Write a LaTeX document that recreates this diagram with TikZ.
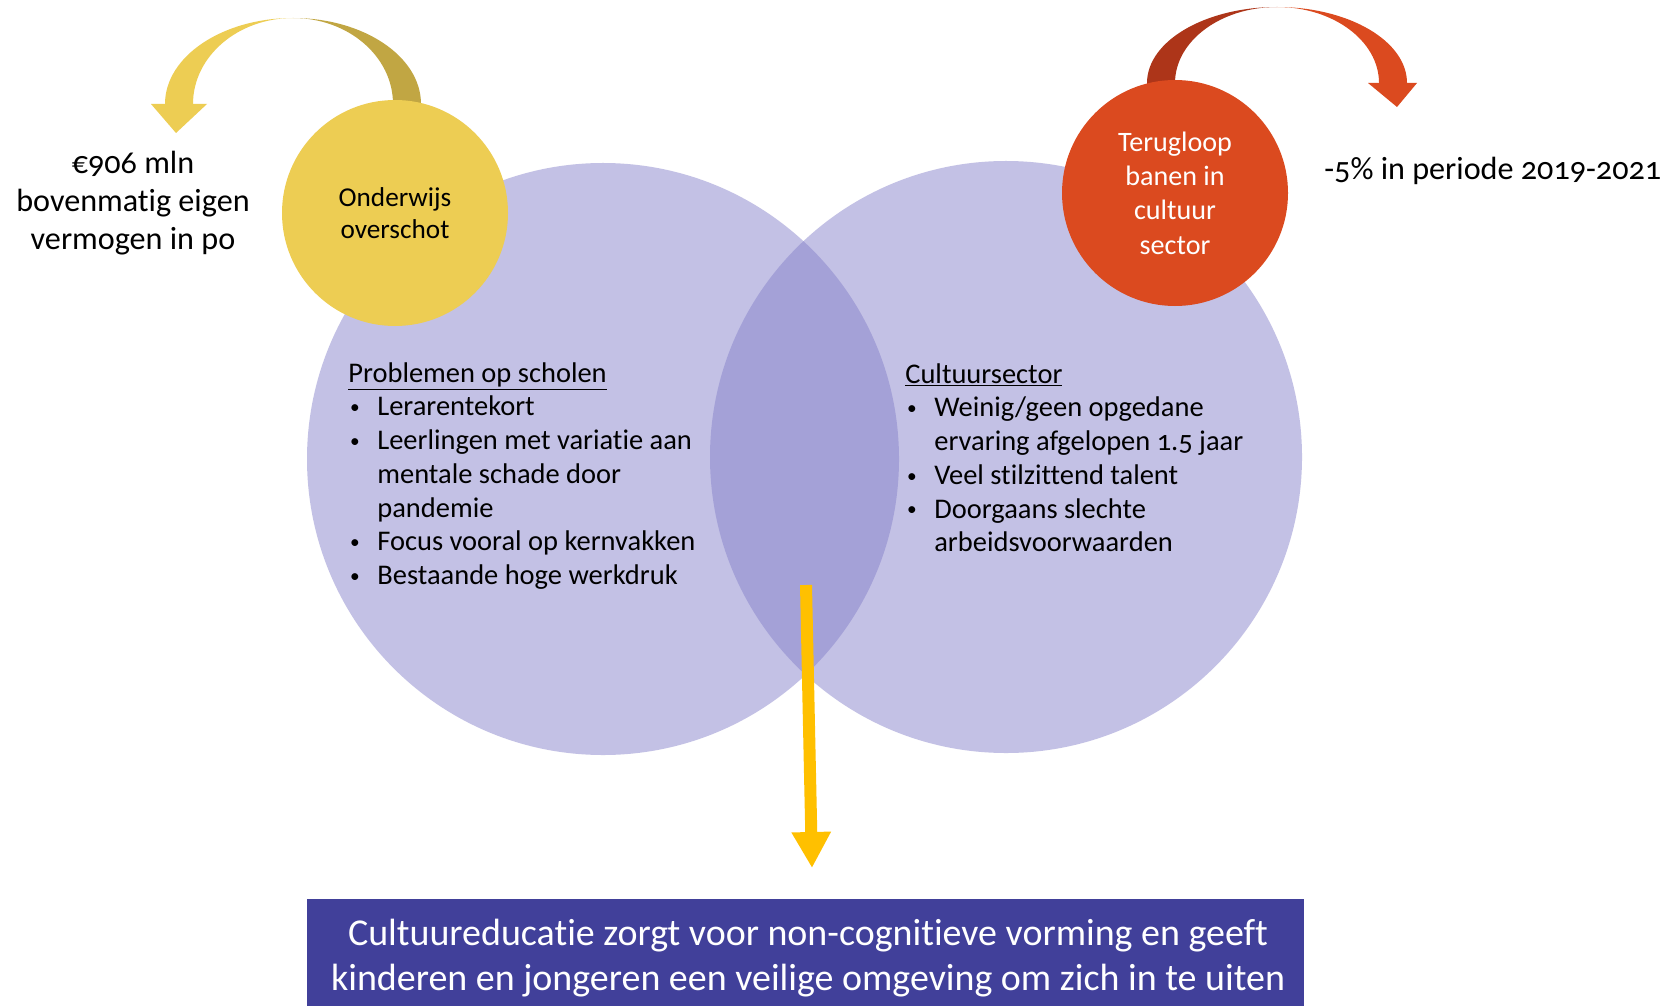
\documentclass[tikz,border=0pt]{standalone}
\usepackage{fontspec}
\setmainfont{Carlito}[Numbers=OldStyle, Ligatures=NoCommon]
\usetikzlibrary{arrows.meta}

\definecolor{vennfill}{RGB}{131,127,201}
\definecolor{gold}{RGB}{237,205,83}
\definecolor{goldback}{RGB}{193,166,67}
\definecolor{rust}{RGB}{219,74,31}
\definecolor{rustback}{RGB}{173,53,25}
\definecolor{arrowgold}{RGB}{255,192,0}
\definecolor{navy}{RGB}{65,64,154}

\newcommand{\vbul}{\makebox[16.5pt][l]{\hspace{1pt}\raisebox{1.3pt}{\fontsize{11}{11}\selectfont\textbullet}}}
\newcommand{\vind}{\hspace*{16.5pt}}

\begin{document}
\begin{tikzpicture}[x=0.2mm, y=-0.2mm,
  venn/.style={circle, fill=vennfill, fill opacity=0.48, minimum size=118.4mm, inner sep=0pt},
  bubble/.style={circle, minimum size=45.2mm, inner sep=0pt, align=center},
  listtext/.style={anchor=north west, inner sep=0pt, align=left, font=\fontsize{16.2}{19.2}\selectfont},
  sidetext/.style={align=center, inner sep=0pt, font=\fontsize{18.3}{21.8}\selectfont}]

% canvas
\fill[white] (0,0) rectangle (1674,1006);
\useasboundingbox (0,0) rectangle (1674,1006);

% curved arrow of the school budget
\fill[goldback] (293,18) arc[start angle=270, end angle=360, x radius=128, y radius=86]
  -- (421,135) -- (393,135) -- (393,104)
  arc[start angle=0, end angle=-90, x radius=100, y radius=86] -- cycle;
\fill[gold] (165,104) arc[start angle=180, end angle=270, x radius=128, y radius=86]
  arc[start angle=270, end angle=180, x radius=100, y radius=86] -- cycle;
\fill[gold] (151,104) -- (207,104) -- (176,133) -- cycle;

% curved arrow of the culture jobs
\fill[rustback] (1147,83) arc[start angle=180, end angle=270, x radius=130, y radius=76]
  arc[start angle=270, end angle=180, x radius=102, y radius=76]
  -- (1175,120) -- (1147,120) -- cycle;
\fill[rust] (1277,7) arc[start angle=270, end angle=360, x radius=130, y radius=76]
  -- (1379,83) arc[start angle=0, end angle=-90, x radius=102, y radius=76] -- cycle;
\fill[rust] (1368,83) -- (1417,83) -- (1397,107) -- cycle;

% Venn circles
\node[venn] (school) at (603,459) {};
\node[venn] (culture) at (1006,457) {};

% bubbles
\node[bubble, fill=gold, font=\fontsize{15.5}{18}\selectfont] (surplus) at (395,213) {Onderwijs\\overschot};
\node[bubble, fill=rust, text=white, font=\fontsize{16}{19.5}\selectfont] (jobs) at (1175,193) {Terugloop\\banen in\\cultuur\\sector};

% side notes
\node[sidetext] (reserve) at (133,203) {€906 mln\\bovenmatig eigen\\vermogen in po};
\node[sidetext, anchor=west] (decline) at (1324,171) {-5\% in periode 2019-2021};

% lists
\node[listtext] (problems) at (348,362) {\underline{Problemen op scholen}\\
  \vbul Lerarentekort\\
  \vbul Leerlingen met variatie aan\\
  \vind mentale schade door\\
  \vind pandemie\\
  \vbul Focus vooral op kernvakken\\
  \vbul Bestaande hoge werkdruk};
\node[listtext] (sector) at (905,363) {\underline{Cultuursector}\\
  \vbul Weinig/geen opgedane\\
  \vind ervaring afgelopen 1.5 jaar\\
  \vbul Veel stilzittend talent\\
  \vbul Doorgaans slechte\\
  \vind arbeidsvoorwaarden};

% conclusion
\coordinate (overlap) at (806,585);
\coordinate (tip) at (812,868);
\draw[arrowgold, line width=2.4mm, -{Triangle[width=7.4mm, length=7.2mm]}] (overlap) -- (tip);
\node[fill=navy, minimum width=199.4mm, minimum height=21.4mm, inner sep=0pt] (message) at (805.5,952.5) {};
\node[text=white, align=center, inner sep=0pt, font=\fontsize{21.6}{25.6}\selectfont] (messagetext) at (808,958)
  {Cultuureducatie zorgt voor non-cognitieve vorming en geeft\\kinderen en jongeren een veilige omgeving om zich in te uiten};
\end{tikzpicture}
\end{document}
